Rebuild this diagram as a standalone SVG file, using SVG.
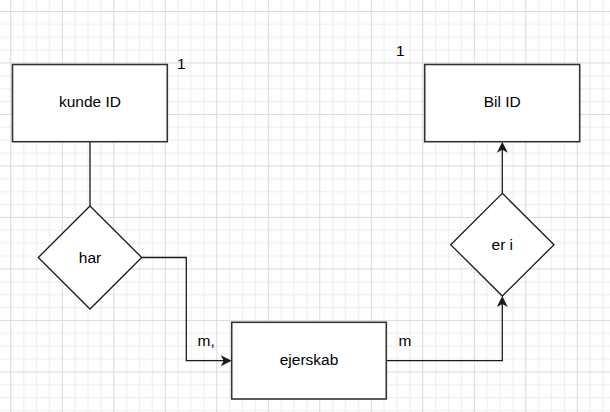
<svg xmlns="http://www.w3.org/2000/svg" width="610" height="412" viewBox="0 0 610 412">
<style>
.ent{fill:#fff;stroke:#333;stroke-width:1.6}
.rel{fill:#fff;stroke:#1a1a1a;stroke-width:1.3}
.lbl{font-family:"Liberation Sans",Arial,sans-serif;font-size:15.5px;fill:#000}
.c{text-anchor:middle}
.edge{fill:none;stroke:#1a1a1a;stroke-width:1.3}
</style>
<defs>
<pattern id="grid" patternUnits="userSpaceOnUse" x="10.3" y="10.9" width="51.5" height="51.5">
<path d="M13.375,0V51.5M26.25,0V51.5M39.125,0V51.5M0,13.375H51.5M0,26.25H51.5M0,39.125H51.5" stroke="#f1f1f1" stroke-width="1.5" fill="none"/>
<path d="M0.5,0V51.5M0,0.5H51.5" stroke="#d9d9d9" stroke-width="1" fill="none"/>
</pattern>
<marker id="arr" viewBox="-12 -6 13 12" refX="-4" refY="0" markerWidth="13" markerHeight="12" markerUnits="userSpaceOnUse" orient="auto">
<path d="M0,0 L-11,-5.5 L-8,0 L-11,5.5 Z" fill="#1a1a1a"/>
</marker>
</defs>
<rect width="610" height="412" fill="#fff"/>
<rect width="610" height="412" fill="url(#grid)"/>
<g id="connectors">
<path class="edge" d="M90,141.7V206"/>
<path class="edge" d="M141.7,257.5H186.3V360.7H227.7" marker-end="url(#arr)"/>
<path class="edge" d="M386.3,360.7H502.3V300" marker-end="url(#arr)"/>
<path class="edge" d="M502.3,193.3V145.7" marker-end="url(#arr)"/>
<text class="lbl" x="197.5" y="346">m,</text>
<text class="lbl" x="398.5" y="345.5">m</text>
<text class="lbl" x="177" y="69.3">1</text>
<text class="lbl" x="396" y="55.7">1</text>
</g>
<g id="kunde">
<rect class="ent" x="12.5" y="64.5" width="154.8" height="77.2"/>
<text class="lbl c" x="90" y="107.3">kunde ID</text>
</g>
<g id="bil">
<rect class="ent" x="424.7" y="64.5" width="155" height="77.2"/>
<text class="lbl c" x="502.2" y="106.9">Bil ID</text>
</g>
<g id="har">
<path class="rel" d="M90,206L141.7,257.5L90,309L38.3,257.5Z"/>
<text class="lbl c" x="90" y="262.5">har</text>
</g>
<g id="eri">
<path class="rel" d="M502.3,193.3L554,244.7L502.3,296L450.7,244.7Z"/>
<text class="lbl c" x="502.3" y="249.5">er i</text>
</g>
<g id="ejerskab">
<rect class="ent" x="231.7" y="322.3" width="154.6" height="76.7"/>
<text class="lbl c" x="309" y="365.3">ejerskab</text>
</g>
</svg>
